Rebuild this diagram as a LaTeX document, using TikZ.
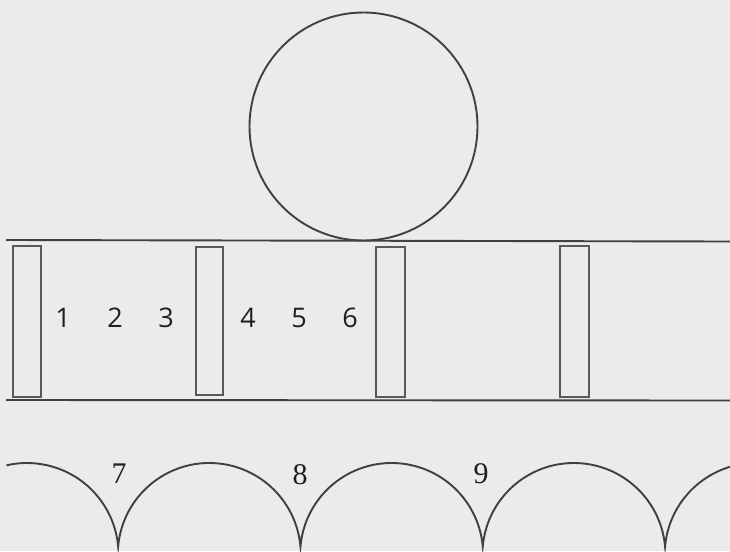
\documentclass[tikz,border=0pt]{standalone}
\usepackage{fontspec}
\newfontfamily\digsans{Open Sans}
\newfontfamily\digserif{Liberation Serif}
\begin{document}
\begin{tikzpicture}[x=1pt,y=-1pt,
  bar/.style={draw=black!65, line width=1.5pt},
  ink/.style={draw=black!75, line width=1.9pt},
  numA/.style={font=\digsans\fontsize{27}{30}\selectfont, text=black!88, inner sep=0pt},
  numB/.style={font=\digserif\fontsize{30}{34}\selectfont, text=black!88, inner sep=0pt}]
\fill[fill={rgb,255:red,235;green,235;blue,237}] (0,0) rectangle (730,551);
\useasboundingbox (0,0) rectangle (730,551);
% wheel
\draw[ink] (363.5,126.5) circle[radius=114];
% rails
\draw[ink] (6,240) -- (730,241.5);
\draw[ink] (6,400) -- (730,400.5);
% bars
\draw[bar] (13,246) rectangle (41,397);
\draw[bar] (196,247) rectangle (223,395);
\draw[bar] (376,247) rectangle (405,397);
\draw[bar] (560,246) rectangle (589,397);
% labels
\node[numA] (n1) at (63,318) {1};
\node[numA] (n2) at (115,318) {2};
\node[numA] (n3) at (166,318) {3};
\node[numA] (n4) at (248,318) {4};
\node[numA] (n5) at (299,318) {5};
\node[numA] (n6) at (350,318) {6};
\node[numB] (n7) at (119,474) {7};
\node[numB] (n8) at (300,475) {8};
\node[numB] (n9) at (481,474) {9};
% scallops
\draw[ink] ([shift={(27,554.5)}]-103:91.5) arc[start angle=-103,end angle=-5,radius=91.5]
  arc[start angle=-175,end angle=-5,radius=91.5]
  arc[start angle=-175,end angle=-5,radius=91.5]
  arc[start angle=-175,end angle=-5,radius=91.5]
  arc[start angle=-175,end angle=-100,radius=91.5];
\end{tikzpicture}
\end{document}
